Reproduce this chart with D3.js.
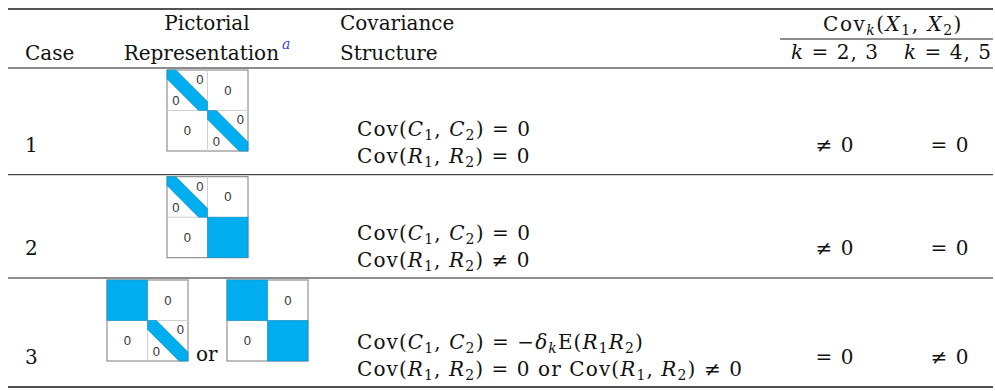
<!DOCTYPE html>
<html><head><meta charset="utf-8">
<script src="https://cdn.jsdelivr.net/npm/d3@7"></script>
<style>body{margin:0;background:#fff}svg text{white-space:pre}</style>
</head><body>
<script>
var cases = ["1", "2", "3"];
// block types of each little matrix, read left to right, top to bottom
var pictures = [
    [["band", "zero", "zero", "band"]],
    [["band", "zero", "zero", "solid"]],
    [["solid", "zero", "zero", "band"], ["solid", "zero", "zero", "solid"]]
];
// *x* = italic, _1 or _{..} = subscript
var covLine1 = ["Cov(*C*_1, *C*_2) = 0", "Cov(*C*_1, *C*_2) = 0", "Cov(*C*_1, *C*_2) = −*δ*_{*k*}E(*R*_1*R*_2)"];
var covLine2 = ["Cov(*R*_1, *R*_2) = 0", "Cov(*R*_1, *R*_2) ≠ 0", "Cov(*R*_1, *R*_2) = 0 or Cov(*R*_1, *R*_2) ≠ 0"];
var covK23 = ["≠ 0", "≠ 0", "= 0"];
var covK45 = ["= 0", "= 0", "≠ 0"];
var kLabels = ["*k* = 2, 3", "*k* = 4, 5"];
var headCovK = "Cov_{*k*}(*X*_1, *X*_2)";

var W = 995, H = 391, fs = 20;
var serif = "'DejaVu Serif', serif";
var blue = "#00aeef";

var svg = d3.select("body").append("svg").attr("width", W).attr("height", H);

// row tops / bottoms (rules) and column anchors
var rowTop = d3.scaleOrdinal().domain(cases).range([68, 174.7, 278]);
var rowBot = d3.scaleOrdinal().domain(cases).range([174.7, 278, 387]);
var col = d3.scaleOrdinal().domain(["case", "pic", "covHead", "cov", "k23", "k45"])
    .range([25, 207, 340, 357, 835, 950]);

function tex(sel, str, size, ls) {
    var italic = false, i = 0, parts = [];
    while (i < str.length) {
        var c = str[i];
        if (c === "*") { italic = !italic; i++; continue; }
        if (c === "_") {
            var body;
            if (str[i + 1] === "{") { var j = str.indexOf("}", i); body = str.slice(i + 2, j); i = j + 1; }
            else { body = str[i + 1]; i += 2; }
            parts.push({t: body.replace(/\*/g, ""), it: body.indexOf("*") >= 0, sub: true});
            continue;
        }
        var last = parts[parts.length - 1];
        if (last && !last.sub && last.it === italic) last.t += c;
        else parts.push({t: c, it: italic, sub: false});
        i++;
    }
    sel.style("letter-spacing", (ls == null ? 1.1 : ls) + "px");
    var prevSub = false;
    parts.forEach(function(p) {
        var ts = sel.append("tspan").text(p.t)
            .style("font-style", p.it ? "italic" : "normal")
            .style("font-size", (p.sub ? size * 0.7 : size) + "px");
        if (p.sub && !prevSub) ts.attr("dy", size * 0.2);
        if (!p.sub && prevSub) ts.attr("dy", -size * 0.2);
        prevSub = p.sub;
    });
    return sel;
}

function label(x, y, anchor) {
    return svg.append("text").attr("x", x).attr("y", y)
        .attr("text-anchor", anchor || "start")
        .style("font-family", serif).style("font-size", fs + "px").attr("fill", "#111");
}

// rules
function rule(x1, x2, y, w) {
    svg.append("line").attr("x1", x1).attr("x2", x2).attr("y1", y).attr("y2", y)
        .attr("stroke", "#1a1a1a").attr("stroke-width", w);
}
rule(8, 993, 9, 1.4);
rule(8, 993, 68, 1);
rule(780, 993, 39, 1);
cases.forEach(function(c) { rule(8, 993, rowBot(c), c === "3" ? 1.4 : 1); });

// header
label(col("case"), 60).text("Case");
label(col("pic"), 30, "middle").text("Pictorial");
var rep = label(col("pic"), 60, "middle");
rep.append("tspan").text("Representation");
rep.append("tspan").text("a").attr("dx", 3).attr("dy", -11)
    .style("font-style", "italic").style("font-size", "14px").attr("fill", "#3b3bff");
label(col("covHead"), 30).text("Covariance");
label(col("covHead"), 60).text("Structure");
tex(label(893, 31, "middle"), headCovK, fs, 1.5);
tex(label(col("k23"), 59, "middle"), kLabels[0], fs, 1);
tex(label(col("k45") - 2, 59, "middle"), kLabels[1], fs, 1);

// body rows
cases.forEach(function(c, i) {
    var b = rowBot(c);
    label(col("case"), b - 23).text(c);
    tex(label(col("cov"), b - 38.5), covLine1[i], fs);
    tex(label(col("cov"), b - 11.4), covLine2[i], fs);
    tex(label(col("k23"), b - 23, "middle"), covK23[i], fs);
    tex(label(col("k45"), b - 23, "middle"), covK45[i], fs);
});

// little block matrices
var S = 81, h = S / 2, bw = 0.22 * h;
function zero(x, y) {
    svg.append("text").attr("x", x).attr("y", y).attr("text-anchor", "middle")
        .attr("dominant-baseline", "central")
        .style("font-family", "'Liberation Sans', sans-serif").style("font-size", "13px")
        .attr("fill", "#333").text("0");
}
function matrix(x0, y0, blocks) {
    svg.append("rect").attr("x", x0).attr("y", y0).attr("width", S).attr("height", S)
        .attr("fill", "#fff").attr("stroke", "#7a7a7a").attr("stroke-width", 1);
    svg.append("line").attr("x1", x0 + h).attr("x2", x0 + h).attr("y1", y0).attr("y2", y0 + S)
        .attr("stroke", "#d0d0d0");
    svg.append("line").attr("x1", x0).attr("x2", x0 + S).attr("y1", y0 + h).attr("y2", y0 + h)
        .attr("stroke", "#d0d0d0");
    blocks.forEach(function(t, k) {
        var bx = x0 + (k % 2) * h, by = y0 + Math.floor(k / 2) * h;
        if (t === "zero") zero(bx + h / 2, by + h / 2);
        if (t === "solid") {
            svg.append("rect").attr("x", bx).attr("y", by).attr("width", h).attr("height", h)
                .attr("fill", blue).attr("stroke", "#1590c4").attr("stroke-width", 0.6);
        }
        if (t === "band") {
            var pts = [[0, 0], [bw, 0], [h, h - bw], [h, h], [h - bw, h], [0, bw]];
            svg.append("polygon")
                .attr("points", pts.map(function(p) { return (bx + p[0]) + "," + (by + p[1]); }).join(" "))
                .attr("fill", blue).attr("stroke", "#1590c4").attr("stroke-width", 0.6);
            zero(bx + 0.81 * h, by + 0.23 * h);
            zero(bx + 0.22 * h, by + 0.76 * h);
        }
    });
}
var picLeft = [[167], [167], [107, 227]];
cases.forEach(function(c, i) {
    pictures[i].forEach(function(blocks, m) {
        matrix(picLeft[i][m], rowTop(c) + 2, blocks);
    });
    if (pictures[i].length > 1) label(196, rowTop(c) + 2 + S).text("or");
});
</script>
</body></html>
